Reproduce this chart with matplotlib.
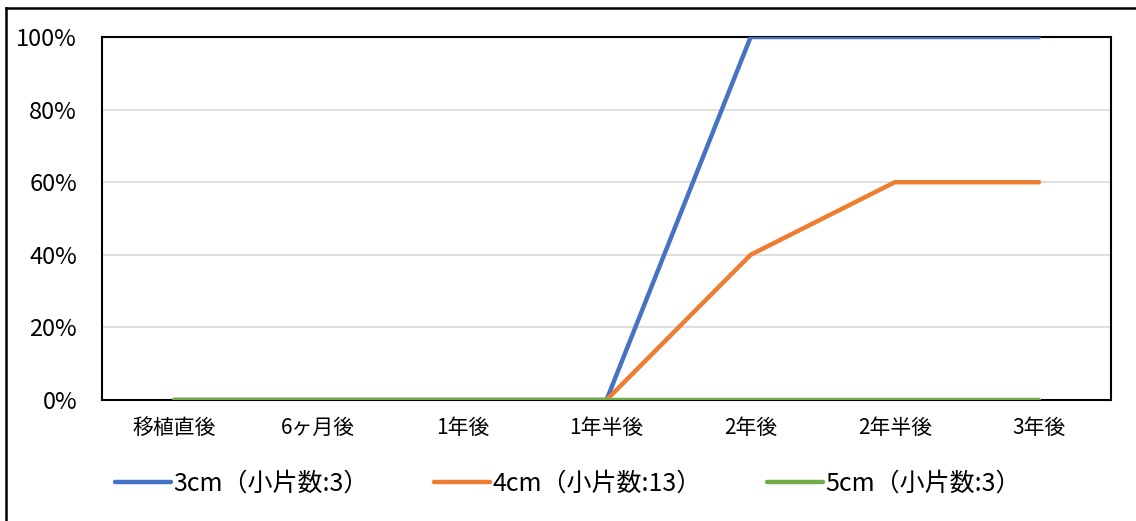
import numpy as np
import matplotlib
matplotlib.use('Agg')
import matplotlib.pyplot as plt
from matplotlib.lines import Line2D
from matplotlib.ticker import FuncFormatter

plt.rcParams['font.family'] = ['Noto Sans CJK JP', 'DejaVu Sans']

periods = ['移植直後', '6ヶ月後', '1年後', '1年半後', '2年後', '2年半後', '3年後']
rate_3cm = [0, 0, 0, 0, 100, 100, 100]
rate_4cm = [0, 0, 0, 0, 40, 60, 60]
rate_5cm = [0, 0, 0, 0, 0, 0, 0]
labels = ['3cm（小片数:3）', '4cm（小片数:13）', '5cm（小片数:3）']
colors = ['#4472C4', '#ED7D31', '#70AD47']

W, H = 1136, 521
fig = plt.figure(figsize=(W / 100, H / 100), dpi=100)
ax = fig.add_axes([102 / W, 1 - 400 / H, 1009 / W, 363 / H])

x = np.arange(len(periods))
for vals, lab, c in zip([rate_3cm, rate_4cm, rate_5cm], labels, colors):
    ax.plot(x, vals, color=c, lw=3.2, label=lab, solid_capstyle='round', zorder=3)

ax.set_xlim(-0.5, len(periods) - 0.5)
ax.set_ylim(0, 100)
ax.set_yticks([0, 20, 40, 60, 80, 100])
ax.yaxis.set_major_formatter(FuncFormatter(lambda v, p: f'{v:.0f}%'))
ax.set_xticks(x)
ax.set_xticklabels(periods, fontsize=15)
ax.tick_params(axis='y', labelsize=17, length=0, pad=18)
ax.tick_params(axis='x', length=0, pad=12)
ax.grid(axis='y', color='#d9d9d9', lw=1.2, zorder=0)
for s in ax.spines.values():
    s.set_color('black')
    s.set_linewidth(1.5)

fig.legend(loc='center', bbox_to_anchor=(0.5, 1 - 484 / H), ncol=3, frameon=False,
           fontsize=18, handlelength=2.25, handletextpad=0.1, columnspacing=2.6)

# frame around the whole chart
fig.add_artist(Line2D([6 / W, 1], [1 - 8 / H, 1 - 8 / H], color='black', lw=1.8))
fig.add_artist(Line2D([6 / W, 6 / W], [0, 1 - 8 / H], color='black', lw=1.8))

fig.savefig('out.png', dpi=100)
